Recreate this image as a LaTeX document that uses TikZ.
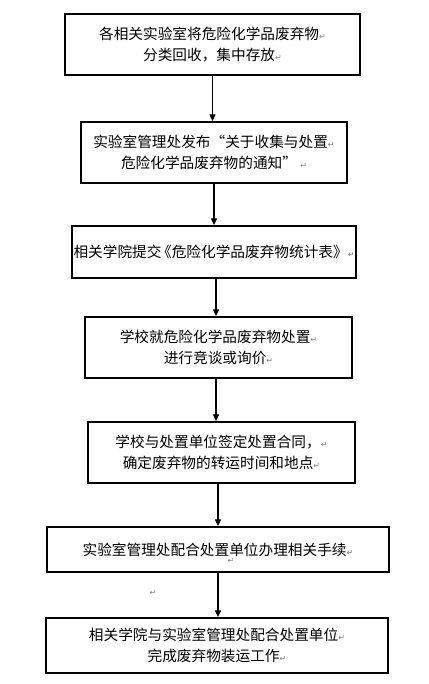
\documentclass[tikz,border=0pt]{standalone}
\usepackage{fontspec}
\setmainfont{Noto Sans CJK SC}
\newfontfamily\markfont{DejaVu Sans}
\usetikzlibrary{arrows.meta}
\newcommand{\pmark}{{\markfont\fontsize{6}{6}\selectfont\color{gray}↵}}

\begin{document}
\begin{tikzpicture}[
  x=0.75pt, y=-0.75pt,
  stepbox/.style={rectangle, draw=black, fill=white, line width=1.4pt, align=center, inner sep=1pt, font=\fontsize{11}{15.75}\selectfont},
  flow/.style={-{Triangle[length=5pt,width=4.5pt]}, line width=0.8pt},
  every node/.style={font=\fontsize{11}{15.75}\selectfont}
]
  \useasboundingbox (0,0) rectangle (428,684);

  \node[stepbox, minimum width=221.25pt, minimum height=45.75pt] (b1) at (212.5,44.5) {各相关实验室将危险化学品废弃物\pmark\\分类回收，集中存放\pmark};
  \node[stepbox, minimum width=199.5pt, minimum height=45.75pt] (b2) at (214,152.5) {实验室管理处发布“关于收集与处置\pmark\\危险化学品废弃物的通知” \pmark};
  \node[stepbox, minimum width=213pt, minimum height=39pt] (b3) at (214,252) {相关学院提交\kern-0.3em《危险化学品废弃物统计表》\pmark};
  \node[stepbox, minimum width=200.25pt, minimum height=45.75pt] (b4) at (218.5,347.5) {学校就危险化学品废弃物处置\pmark\\进行竞谈或询价\pmark};
  \node[stepbox, minimum width=200.25pt, minimum height=45.75pt] (b5) at (221.5,452.5) {学校与处置单位签定处置合同，\pmark\\确定废弃物的转运时间和地点\pmark};
  \node[stepbox, minimum width=256.5pt, minimum height=33.75pt] (b6) at (218,549.5) {实验室管理处配合处置单位办理相关手续\pmark};
  \node[stepbox, minimum width=256.5pt, minimum height=41.25pt] (b7) at (217,645.5) {相关学院与实验室管理处配合处置单位\pmark\\完成废弃物装运工作\pmark};

  % stray paragraph marks
  \node[inner sep=0pt] (m1) at (231,561) {\pmark};
  \node[inner sep=0pt] (m2) at (153,593) {\pmark};

  \draw[flow] (b1.south) -- (b1.south |- b2.north);
  \draw[flow] (b2.south) -- (b2.south |- b3.north);
  \draw[flow] (b3.south) ++(2,0) coordinate (a3) -- (a3 |- b4.north);
  \draw[flow] (b4.south) ++(-2.5,0) coordinate (a4) -- (a4 |- b5.north);
  \draw[flow] (b6.north |- b5.south) -- (b6.north);
  \draw[flow] (b6.south) -- (b6.south |- b7.north);

\end{tikzpicture}
\end{document}
